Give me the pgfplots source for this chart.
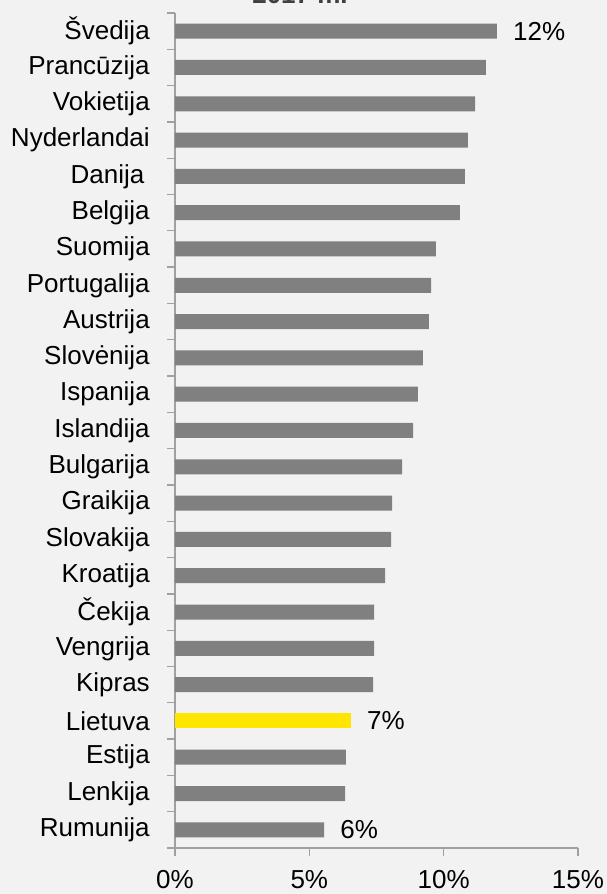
\documentclass[border=0pt]{standalone}
\usepackage{fontspec}
\setmainfont{Liberation Sans}
\usepackage{pgfplots}
\pgfplotsset{compat=1.18}
\definecolor{bgcol}{HTML}{F2F2F2}
\definecolor{barcol}{HTML}{808080}
\definecolor{ltcol}{HTML}{FFE600}
\definecolor{axcol}{HTML}{A0A0A0}
% 1 px of the reference = 0.75pt
\begin{document}
\begin{tikzpicture}
\useasboundingbox (-131.25pt,-34.5pt) rectangle (324pt,636pt);
\clip (-131.25pt,-34.5pt) rectangle (324pt,636pt);
\fill[bgcol] (-131.25pt,-34.5pt) rectangle (324pt,636pt);
% chart title, cut off at the top edge as in the source image
\node[anchor=base, font=\fontsize{19.5}{23}\selectfont\bfseries, text=black!75]
  at (93.75pt,633pt) {2017 m.};
\begin{axis}[
  at={(0,0)}, anchor=south west,
  scale only axis, width=302.25pt, height=626.25pt,
  xmin=0, xmax=15, ymin=-0.5, ymax=22.5,
  axis x line=bottom, axis y line=left,
  axis line style={draw=axcol, line width=1pt, -},
  tick align=outside,
  major tick length=6pt,
  tick style={draw=axcol, line width=1pt},
  /pgf/number format/assume math mode=true,
  xtick={0,5,10,15},
  xticklabels={0\%,5\%,10\%,15\%},
  xticklabel style={anchor=north, inner sep=0pt, yshift=-10.5pt},
  ytick={-0.5,0.5,...,22.5},
  yticklabels={},
  extra y ticks={0,...,22},
  extra y tick labels={Rumunija,Lenkija,Estija,Lietuva,Kipras,Vengrija,{Čekija},Kroatija,
    Slovakija,Graikija,Bulgarija,Islandija,Ispanija,{Slovėnija},Austrija,Portugalija,
    Suomija,Belgija,{Danija\kern4pt},Nyderlandai,Vokietija,{Prancūzija},{Švedija}},
  extra y tick style={major tick length=0pt},
  yticklabel style={anchor=east, inner sep=0pt, xshift=-18.75pt},
  ticklabel style={font=\fontsize{19.5}{23}\selectfont, text=black},
  clip=false,
]
\addplot[xbar, bar width=11.25pt, bar shift=0pt, fill=barcol, draw=none]
  coordinates {(5.55,0) (6.33,1) (6.36,2) (7.37,4) (7.41,5) (7.41,6)
  (7.82,7) (8.04,8) (8.08,9) (8.45,10) (8.86,11) (9.04,12) (9.23,13)
  (9.45,14) (9.53,15) (9.71,16) (10.60,17) (10.79,18) (10.90,19)
  (11.17,20) (11.57,21) (11.98,22)};
\addplot[xbar, bar width=11.25pt, bar shift=0pt, fill=ltcol, draw=none]
  coordinates {(6.55,3)};
\addplot[xbar, bar width=11.25pt, bar shift=0pt, fill=none, draw=none,
  point meta=x,
  nodes near coords={\pgfmathprintnumber[fixed,precision=0,assume math mode=true]{\pgfplotspointmeta}\%},
  every node near coord/.style={anchor=west, inner sep=0pt, xshift=12pt,
    font=\fontsize{19.5}{23}\selectfont, text=black}]
  coordinates {(11.98,22) (6.55,3) (5.55,0)};
\end{axis}
\end{tikzpicture}
\end{document}
